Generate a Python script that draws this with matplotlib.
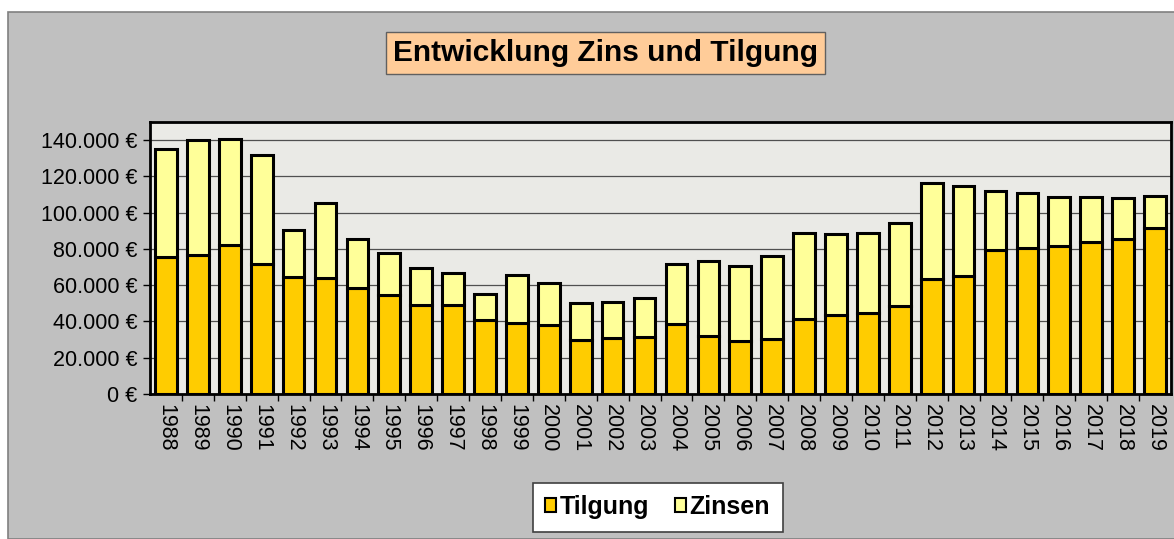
import numpy as np
import matplotlib.pyplot as plt
from matplotlib.patches import Rectangle
from matplotlib.ticker import FuncFormatter

plt.rcParams['font.family'] = ['Liberation Sans', 'DejaVu Sans']

years = list(range(1988, 2020))
tilgung = [75700, 76600, 82000, 71700, 64700, 64100, 58200, 54600, 49100, 48900,
           40600, 39100, 38200, 29800, 31100, 31200, 38400, 32200, 29400, 30500,
           41100, 43400, 44800, 48500, 63200, 65000, 79600, 80700, 81600, 83600,
           85600, 91300]
gesamt = [134900, 140200, 140900, 131900, 90400, 105500, 85600, 77500, 69600, 66500,
          55300, 65600, 61000, 50300, 50500, 52700, 71800, 73300, 70600, 75900,
          88900, 88400, 88900, 94100, 116300, 114500, 112100, 110800, 108800, 108400,
          107900, 109100]
zinsen = [g - t for g, t in zip(gesamt, tilgung)]

W, H = 1174, 539
fig = plt.figure(figsize=(W / 100, H / 100), dpi=100)
fig.patch.set_facecolor('white')

# grey chart area with thin border
fig.patches.append(Rectangle((8 / W, 0), 1, 1 - 12 / H, transform=fig.transFigure,
                             facecolor='#C0C0C0', edgecolor='#808080', lw=1.2, zorder=-5))

ax = fig.add_axes([150 / W, (H - 394) / H, 1021 / W, 272 / H])
ax.set_facecolor('#EAEAE6')

x = np.arange(len(years))
ax.bar(x, tilgung, width=0.68, color='#FFCC00', edgecolor='black', lw=2.2, zorder=3, label='Tilgung')
ax.bar(x, zinsen, bottom=tilgung, width=0.68, color='#FFFF99', edgecolor='black', lw=2.2, zorder=3, label='Zinsen')

ax.set_xlim(-0.5, len(years) - 0.5)
ax.set_ylim(0, 150000)
ax.set_yticks(range(0, 140001, 20000))
ax.yaxis.set_major_formatter(FuncFormatter(lambda v, p: f"{int(v):,} €".replace(',', '.')))
ax.yaxis.grid(True, color='#505050', lw=0.9, zorder=1)

ax.set_xticks(x)
ax.set_xticklabels([str(y) for y in years], rotation=-90, fontsize=15.5)
ax.set_xticks(np.arange(0.5, len(years) - 0.5, 1), minor=True)
ax.tick_params(axis='x', which='major', length=0, pad=7)
ax.tick_params(axis='x', which='minor', length=5, width=1, direction='out')
ax.tick_params(axis='y', labelsize=15.5, length=5, width=1, direction='out', pad=4)

for s in ax.spines.values():
    s.set_linewidth(2)
    s.set_color('black')

fig.text(605.5 / W, 1 - 53 / H, 'Entwicklung Zins und Tilgung', fontsize=21.5, fontweight='bold',
         ha='center', va='center',
         bbox=dict(boxstyle='square,pad=0.25', facecolor='#FFCC99', edgecolor='#606060', lw=1))

leg = fig.legend(loc='center', bbox_to_anchor=(657.5 / W, 1 - 507 / H), ncol=2,
                 prop={'size': 18, 'weight': 'bold'}, frameon=True, fancybox=False,
                 handlelength=0.45, handleheight=0.45, handletextpad=0.15,
                 columnspacing=1.0, borderpad=0.5, borderaxespad=0, framealpha=1)
leg.get_frame().set_facecolor('white')
leg.get_frame().set_edgecolor('#404040')
leg.get_frame().set_linewidth(1.2)
leg._legend_box.sep = 0
for h in leg.legend_handles:
    h.set_linewidth(1.5)

fig.savefig('out.png', dpi=100)
